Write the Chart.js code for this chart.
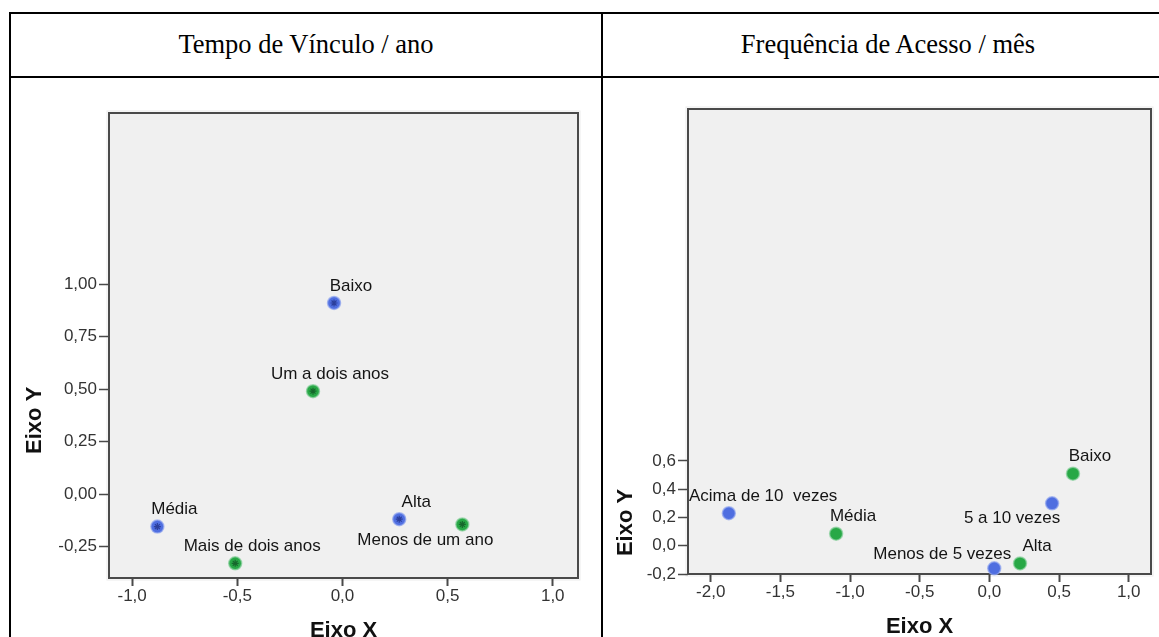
<!DOCTYPE html>
<html lang="pt">
<head>
<meta charset="utf-8">
<title>Mapas de correspondência</title>
<script src="https://cdn.jsdelivr.net/npm/chart.js@4.4.1/dist/chart.umd.min.js"></script>
<style>
  html, body { margin: 0; padding: 0; background: #fff; width: 1159px; height: 637px; overflow: hidden; }
  .line { position: absolute; background: #000; }
  .head {
    position: absolute; top: 12px; height: 64px; line-height: 64px; text-align: center;
    font-family: "Liberation Serif", "Times New Roman", serif; font-size: 26.5px; color: #000;
  }
  canvas { position: absolute; }
</style>
</head>
<body>
<div class="line" style="left:9px;top:12px;width:1160px;height:2px"></div>
<div class="line" style="left:9px;top:76px;width:1160px;height:2px"></div>
<div class="line" style="left:9px;top:12px;width:2px;height:640px"></div>
<div class="line" style="left:601px;top:12px;width:2px;height:640px"></div>
<div class="head" style="left:11px;width:590px">Tempo de Vínculo / ano</div>
<div class="head" style="left:603px;width:570px">Frequência de Acesso / mês</div>
<canvas id="chartVinculo" width="600" height="580" style="left:0;top:80px"></canvas>
<canvas id="chartAcesso" width="557" height="580" style="left:602px;top:80px"></canvas>

<script>
/* ---------- Data: Tempo de Vínculo / ano ---------- */
const vinculoNivelNames = ["Baixo", "Média", "Alta"];
const vinculoNivelX = [-0.04, -0.88, 0.27];
const vinculoNivelY = [0.91, -0.155, -0.12];

const vinculoTempoNames = ["Um a dois anos", "Mais de dois anos", "Menos de um ano"];
const vinculoTempoX = [-0.14, -0.51, 0.57];
const vinculoTempoY = [0.49, -0.33, -0.145];

const vinculoTicksX = [-1, -0.5, 0, 0.5, 1];
const vinculoTicksY = [-0.25, 0, 0.25, 0.5, 0.75, 1];

/* ---------- Data: Frequência de Acesso / mês ---------- */
const acessoFreqNames = ["Acima de 10  vezes", "5 a 10 vezes", "Menos de 5 vezes"];
const acessoFreqX = [-1.87, 0.45, 0.035];
const acessoFreqY = [0.23, 0.30, -0.16];

const acessoNivelNames = ["Baixo", "Média", "Alta"];
const acessoNivelX = [0.60, -1.10, 0.22];
const acessoNivelY = [0.51, 0.085, -0.125];

const acessoTicksX = [-2, -1.5, -1, -0.5, 0, 0.5, 1];
const acessoTicksY = [-0.2, 0, 0.2, 0.4, 0.6];

/* ---------- Style ---------- */
const FONT = '"Liberation Sans", Arial, Helvetica, sans-serif';
const BLUE = "#4f6ee0";
const GREEN = "#28a846";
const AXIS = "#4a4a4a";

// label offset from its point (centre of text), default is above-right
const labelOffset = {
  "Menos de um ano": [-37, 16],
  "5 a 10 vezes": [-40, 15],
  "Menos de 5 vezes": [-52, -14],
};

function fmt(v, d) {
  if (Math.abs(v) < 1e-9) v = 0;
  return v.toFixed(d).replace(".", ",");
}

function toPoints(xs, ys) {
  return xs.map((x, i) => ({ x, y: ys[i] }));
}

/* ---------- Plot box, labels, axis titles ---------- */
const boxPlugin = {
  id: "box",
  beforeDraw(chart) {
    const { ctx, chartArea: a } = chart;
    ctx.save();
    ctx.fillStyle = "#f0f0f0";
    ctx.fillRect(a.left, a.top, a.right - a.left, a.bottom - a.top);
    ctx.restore();
  },
  beforeDatasetsDraw(chart) {
    const { ctx, chartArea: a } = chart;
    ctx.save();
    ctx.strokeStyle = "rgba(0,0,0,0.08)";
    ctx.lineWidth = 1;
    ctx.strokeRect(a.left - 2, a.top - 2, a.right - a.left + 4, a.bottom - a.top + 4);
    ctx.strokeStyle = AXIS;
    ctx.lineWidth = 2;
    ctx.strokeRect(a.left, a.top, a.right - a.left, a.bottom - a.top);
    ctx.restore();
  },
  afterDatasetsDraw(chart, args, opts) {
    const { ctx, chartArea: a } = chart;
    ctx.save();

    // point labels
    ctx.font = `17px ${FONT}`;
    ctx.fillStyle = "#151515";
    ctx.textAlign = "center";
    ctx.textBaseline = "middle";
    chart.data.datasets.forEach((ds, i) => {
      if (!ds.names) return;
      const meta = chart.getDatasetMeta(i);
      ds.names.forEach((name, j) => {
        const p = meta.data[j];
        const [dx, dy] = labelOffset[name] || [17, -17];
        const w = ctx.measureText(name).width;
        let cx = p.x + dx;
        if (cx - w / 2 < a.left + 1) cx = a.left + 1 + w / 2;
        ctx.fillText(name, cx, p.y + dy);
      });
    });

    // axis titles
    ctx.font = `bold 22px ${FONT}`;
    ctx.fillStyle = "#111";
    ctx.fillText("Eixo X", (a.left + a.right) / 2, a.bottom + 53);

    const ys = chart.scales.y;
    const t = ys.ticks;
    const yMid = (ys.getPixelForValue(t[0].value) + ys.getPixelForValue(t[t.length - 1].value)) / 2 + 5;
    ctx.translate(opts.yTitleX, yMid);
    ctx.rotate(-Math.PI / 2);
    ctx.fillText("Eixo Y", 0, 0);
    ctx.restore();
  },
};

/* ---------- Chart builder ---------- */
function makeChart(id, c) {
  const datasets = [];

  if (c.starred) {
    c.series.forEach((s) => {
      datasets.push({
        data: toPoints(s.x, s.y),
        pointStyle: "star",
        pointRadius: 3.5,
        borderWidth: 1.2,
        pointBorderColor: s.dark,
        pointBackgroundColor: "transparent",
        showLine: false,
        clip: false,
      });
    });
  }

  c.series.forEach((s) => {
    datasets.push({
      names: s.names,
      data: toPoints(s.x, s.y),
      pointStyle: "circle",
      pointRadius: 6.5,
      borderWidth: 1.5,
      pointBackgroundColor: s.color,
      pointBorderColor: s.halo,
      showLine: false,
      clip: false,
    });
  });

  const tickFont = { family: FONT, size: 17 };

  return new Chart(document.getElementById(id), {
    type: "scatter",
    data: { datasets },
    plugins: [boxPlugin],
    options: {
      responsive: false,
      animation: false,
      events: [],
      layout: { padding: c.padding },
      plugins: {
        legend: { display: false },
        tooltip: { enabled: false },
        box: { yTitleX: c.yTitleX },
      },
      scales: {
        x: {
          type: "linear",
          min: c.xRange[0],
          max: c.xRange[1],
          afterBuildTicks: (s) => { s.ticks = c.ticksX.map((v) => ({ value: v })); },
          afterFit: (s) => { s.height = c.xAxisHeight; },
          ticks: {
            callback: (v) => fmt(v, 1),
            color: "#333",
            font: tickFont,
            padding: 0,
            maxRotation: 0,
            autoSkip: false,
          },
          grid: { drawOnChartArea: false, tickLength: 8, tickWidth: 2, tickColor: AXIS },
          border: { display: false },
        },
        y: {
          type: "linear",
          min: c.yRange[0],
          max: c.yRange[1],
          afterBuildTicks: (s) => { s.ticks = c.ticksY.map((v) => ({ value: v })); },
          afterFit: (s) => { s.width = c.yAxisWidth; },
          ticks: {
            callback: (v) => fmt(v, c.decimalsY),
            color: "#333",
            font: tickFont,
            padding: 2,
            autoSkip: false,
          },
          grid: { drawOnChartArea: false, tickLength: 10, tickWidth: 1.5, tickColor: AXIS },
          border: { display: false },
        },
      },
    },
  });
}

/* ---------- Init ---------- */
makeChart("chartVinculo", {
  series: [
    { names: vinculoNivelNames, x: vinculoNivelX, y: vinculoNivelY, color: BLUE, halo: "rgba(150,170,240,0.7)", dark: "#2c3f9c" },
    { names: vinculoTempoNames, x: vinculoTempoX, y: vinculoTempoY, color: GREEN, halo: "rgba(140,210,160,0.7)", dark: "#16682c" },
  ],
  starred: true,
  ticksX: vinculoTicksX,
  ticksY: vinculoTicksY,
  xRange: [-1.11, 1.12],
  yRange: [-0.40, 1.815],
  decimalsY: 2,
  padding: { left: 0, top: 33, right: 22, bottom: 22 },
  yAxisWidth: 109,
  xAxisHeight: 60,
  yTitleX: 35,
});

makeChart("chartAcesso", {
  series: [
    { names: acessoFreqNames, x: acessoFreqX, y: acessoFreqY, color: BLUE, halo: "rgba(150,170,240,0.7)" },
    { names: acessoNivelNames, x: acessoNivelX, y: acessoNivelY, color: GREEN, halo: "rgba(140,210,160,0.7)" },
  ],
  starred: false,
  ticksX: acessoTicksX,
  ticksY: acessoTicksY,
  xRange: [-2.163, 1.16],
  yRange: [-0.2, 3.09],
  decimalsY: 1,
  padding: { left: 0, top: 29, right: 2, bottom: 24 },
  yAxisWidth: 86,
  xAxisHeight: 62,
  yTitleX: 24,
});
</script>
</body>
</html>
